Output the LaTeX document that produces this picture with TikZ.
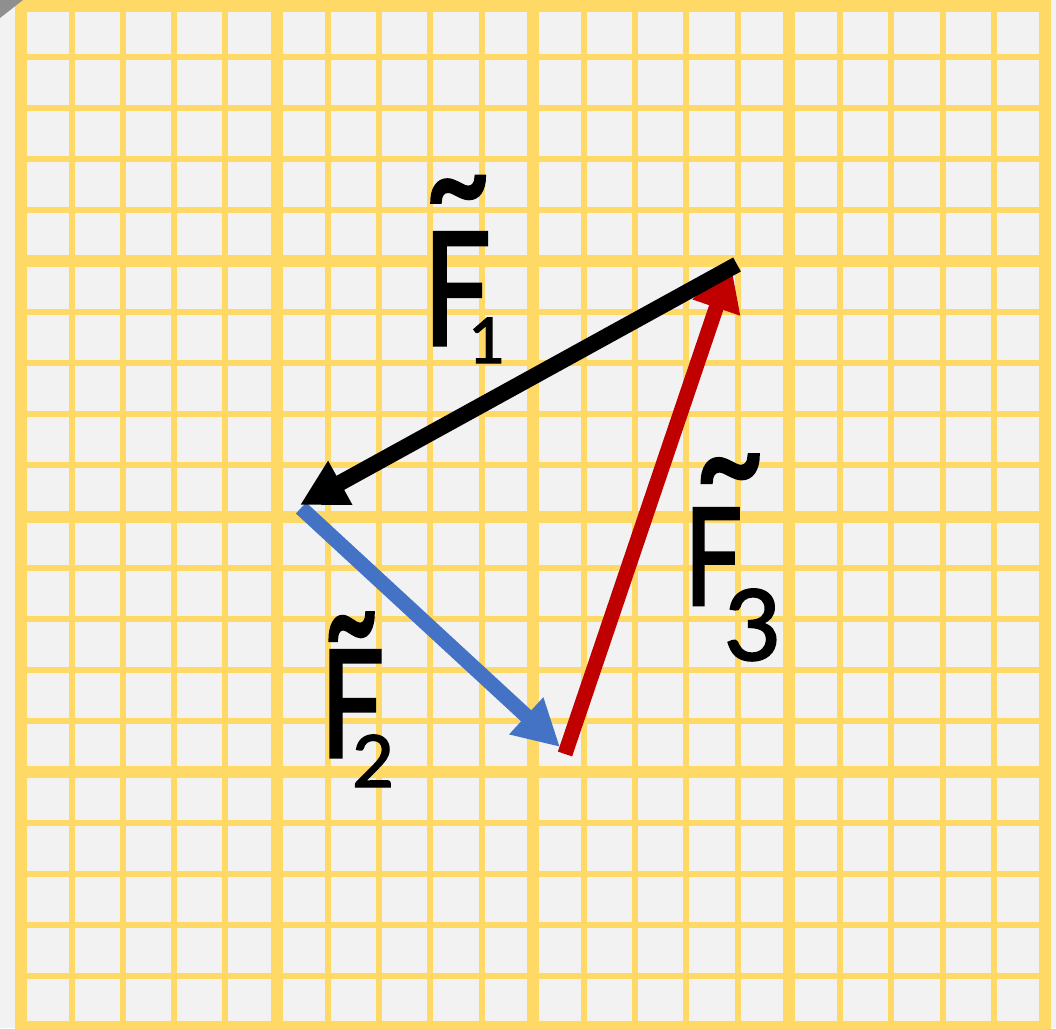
\documentclass[tikz,border=0pt]{standalone}
\usepackage{fontspec}
\setmainfont{Lato}
\newfontfamily\handfont[FakeBold=2]{Lato}
\newfontfamily\tildefont[FakeBold=3]{Lato}
\usetikzlibrary{arrows.meta}
\definecolor{gridy}{HTML}{FFD966}
\definecolor{bgc}{HTML}{F2F2F2}
\definecolor{vblue}{HTML}{4472C4}
\definecolor{vred}{HTML}{C00000}
\definecolor{curl}{HTML}{8F8F8F}
\begin{document}
\begin{tikzpicture}[x=1pt,y=-1pt,
  minorline/.style={gridy,line width=6pt},
  majorline/.style={gridy,line width=12pt},
  vecarrow/.style={-{Triangle[length=46pt,width=47pt]}},
  lbl/.style={inner sep=0pt,anchor=base west,font=\handfont}]
\useasboundingbox[fill=bgc] (0,0) rectangle (1056,1028);
% grid
\foreach \i in {1,2,3,4,6,7,8,9,11,12,13,14,16,17,18,19}{
  \draw[minorline] ({20.5+51.225*\i},0) -- ({20.5+51.225*\i},1033);
  \draw[minorline] (14.5,{6+51.05*\i}) -- (1051,{6+51.05*\i});
}
\foreach \i in {0,5,10,15,20}{
  \draw[majorline] ({20.5+51.225*\i},0) -- ({20.5+51.225*\i},1033);
  \draw[majorline] (14.5,{6+51.05*\i}) -- (1051,{6+51.05*\i});
}
\fill[curl] (0,0) -- (23,0) -- (0,18) -- cycle;
% vectors
\coordinate (A) at (737,264.5);
\coordinate (B) at (300,505);
\coordinate (B2) at (301,508);
\coordinate (C) at (560,747);
\coordinate (C2) at (565,754);
\coordinate (A2) at (731,264);
\draw[vecarrow, vblue, line width=15pt] (B2) -- (C);
\draw[vecarrow, vred, line width=15pt] (C2) -- (A2);
\draw[vecarrow, black, line width=16pt] (A) -- (B);
% labels
\node[lbl] (f1) at (423,345) {\fontsize{157}{157}\selectfont\rlap{\hspace{2pt}\raisebox{114pt}{\tildefont\fontsize{113}{113}\selectfont\scalebox{1}[1.25]{\textasciitilde}}}\scalebox{0.76}[1]{F}\hspace{-22pt}\raisebox{-18pt}{\fontsize{63}{63}\selectfont 1}};
\node[lbl] (f2) at (320,757) {\fontsize{149}{149}\selectfont\rlap{\hspace{4pt}\raisebox{86pt}{\tildefont\fontsize{94}{94}\selectfont\scalebox{1}[1.6]{\textasciitilde}}}\scalebox{0.76}[1]{F}\hspace{-32pt}\raisebox{-30pt}{\fontsize{72}{72}\selectfont 2}};
\node[lbl] (f3) at (684,605) {\fontsize{135}{135}\selectfont\rlap{\hspace{11pt}\raisebox{92pt}{\tildefont\fontsize{120}{120}\selectfont\scalebox{1}[1.25]{\textasciitilde}}}\scalebox{0.76}[1]{F}\hspace{-18pt}\raisebox{-55pt}{\fontsize{98}{98}\selectfont 3}};
\end{tikzpicture}
\end{document}
